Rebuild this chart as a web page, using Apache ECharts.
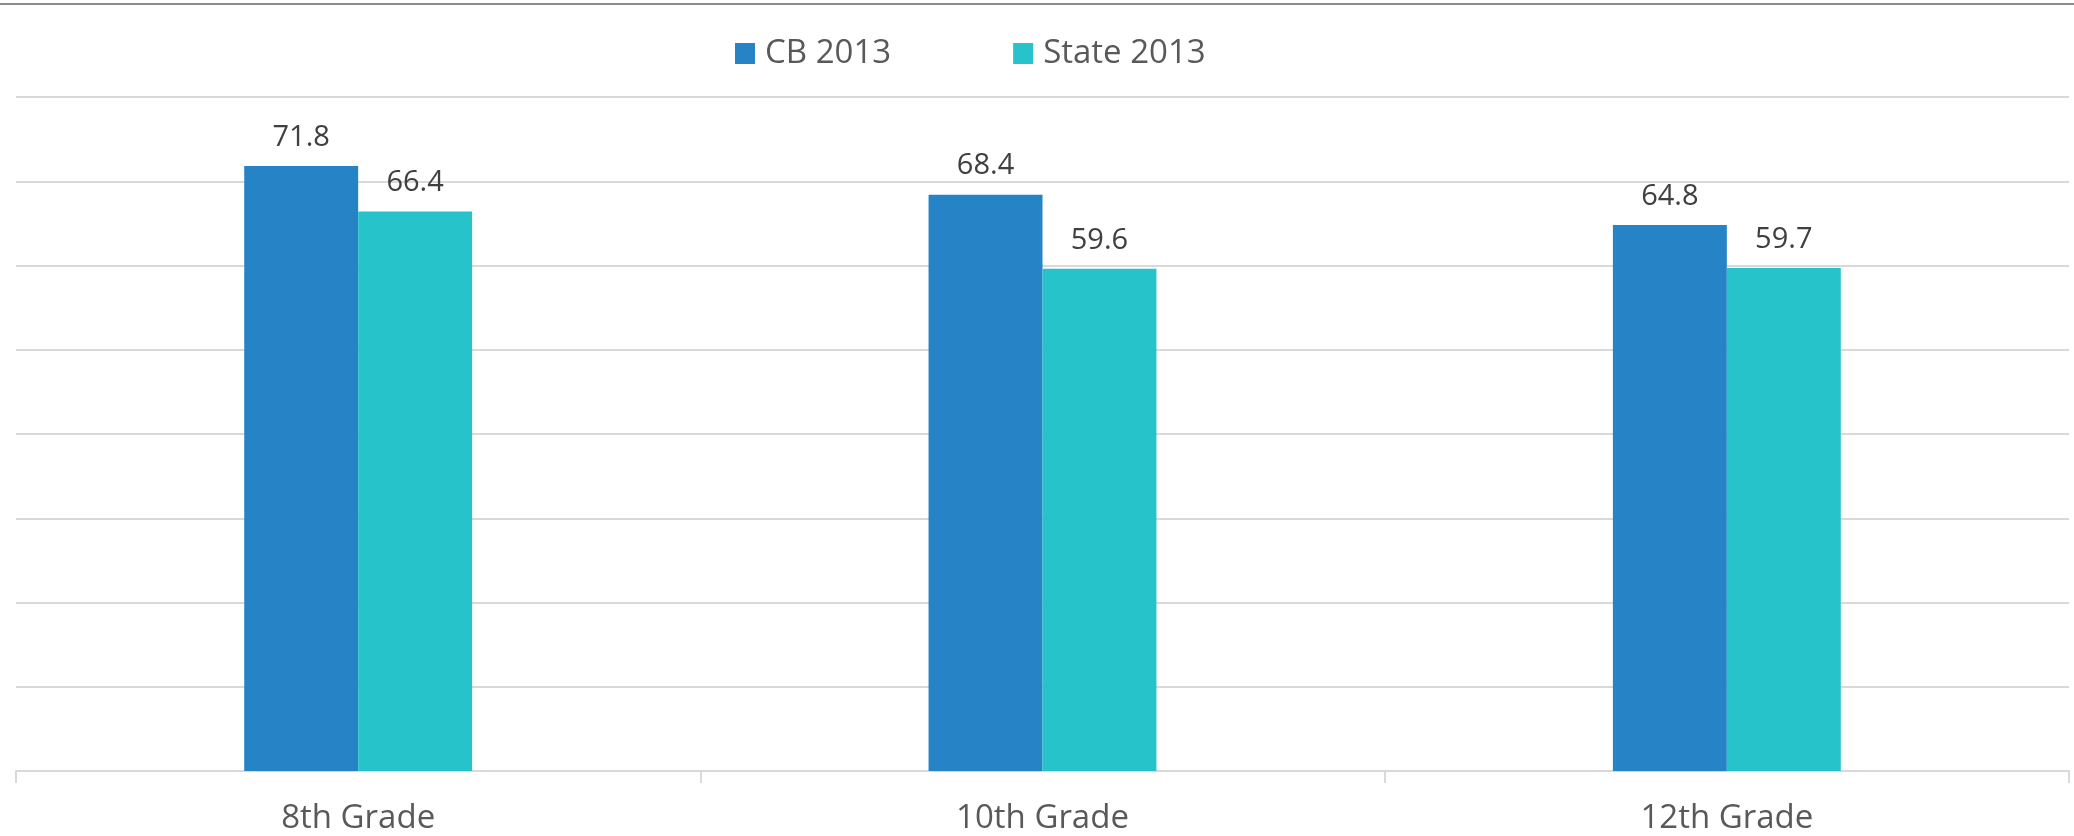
<!DOCTYPE html>
<html>
<head>
<meta charset="utf-8">
<script src="https://cdn.jsdelivr.net/npm/echarts@6/dist/echarts.min.js"></script>
<style>html,body{margin:0;padding:0;background:#fff;}#c{width:2074px;height:836px;}</style>
</head>
<body>
<div id="c"></div>
<script>
const categories = ['8th Grade', '10th Grade', '12th Grade'];
const cb2013 = [71.8, 68.4, 64.8];
const state2013 = [66.4, 59.6, 59.7];
const seriesNames = ['CB 2013', 'State 2013'];

const chart = echarts.init(document.getElementById('c'));
const labelStyle = {
  show: true, position: 'top', distance: 14,
  color: '#404040', fontSize: 29, fontFamily: 'Open Sans',
  formatter: p => p.value.toFixed(1)
};
chart.setOption({
  animation: false,
  backgroundColor: '#fff',
  graphic: [{
    type: 'rect', left: 0, top: 3, shape: { width: 2074, height: 2 },
    style: { fill: '#8c8c8c' }, silent: true
  }],
  legend: {
    data: seriesNames, left: 730, top: 32, icon: 'rect',
    itemWidth: 20, itemHeight: 21, itemGap: 122,
    textStyle: { color: '#595959', fontSize: 33, fontFamily: 'Open Sans', padding: [0, 0, 0, 5] }
  },
  grid: { left: 16, right: 5, top: 97, bottom: 65, containLabel: false },
  xAxis: {
    type: 'category', data: categories,
    axisLine: { lineStyle: { color: '#d9d9d9', width: 2 } },
    axisTick: { show: true, length: 12, lineStyle: { color: '#d9d9d9', width: 2 } },
    axisLabel: { color: '#595959', fontSize: 33, fontFamily: 'Open Sans', margin: 31 }
  },
  yAxis: {
    type: 'value', min: 0, max: 80, interval: 10,
    axisLabel: { show: false }, axisLine: { show: false }, axisTick: { show: false },
    splitLine: { lineStyle: { color: '#d9d9d9', width: 2 } }
  },
  series: [
    { name: seriesNames[0], type: 'bar', data: cb2013, barGap: '0%', barCategoryGap: '66.7%',
      itemStyle: { color: '#2683c6' }, label: labelStyle },
    { name: seriesNames[1], type: 'bar', data: state2013,
      itemStyle: { color: '#27c3cb' }, label: labelStyle }
  ]
});
</script>
</body>
</html>
